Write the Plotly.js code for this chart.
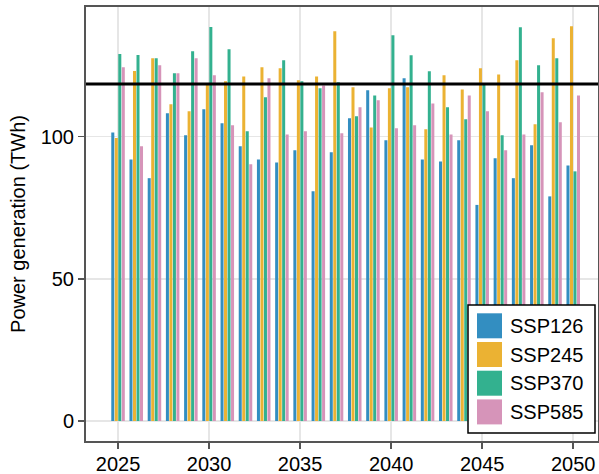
<!DOCTYPE html>
<html>
<head>
<meta charset="utf-8">
<script src="https://cdn.plot.ly/plotly-3.0.1.min.js"></script>
<style>html,body{margin:0;padding:0;background:#fff;}#chart{width:599px;height:474px;}</style>
</head>
<body>
<div id="chart"></div>
<script>
const years = [2025,2026,2027,2028,2029,2030,2031,2032,2033,2034,2035,2036,2037,2038,2039,2040,2041,2042,2043,2044,2045,2046,2047,2048,2049,2050];
const seriesNames = ["SSP126","SSP245","SSP370","SSP585"];
const ssp126 = [101.5,92.0,85.4,108.2,100.5,109.6,104.7,96.6,92.0,90.9,95.2,80.8,94.5,106.5,116.3,98.7,120.5,92.0,91.3,98.7,76.0,92.4,85.4,97.0,79.0,89.9];
const ssp245 = [99.5,123.1,127.6,111.4,108.9,118.2,119.5,121.2,124.4,124.1,119.8,121.2,137.1,117.4,103.2,117.0,117.4,102.6,121.6,116.6,124.1,121.9,126.9,104.4,134.6,138.8];
const ssp370 = [129.1,128.7,127.6,122.3,130.0,138.6,130.7,101.9,113.9,126.9,119.5,117.0,119.1,107.2,114.5,135.7,128.6,123.0,110.3,106.1,118.4,100.5,138.5,125.1,127.6,87.8];
const ssp585 = [124.4,96.6,125.1,122.3,127.6,121.6,104.0,90.3,120.5,100.8,101.9,118.0,101.2,110.3,112.8,103.0,104.0,111.7,100.8,114.5,108.9,95.2,100.8,115.6,105.1,114.5];
const threshold = 118.5;
const colors = ["#338EC1","#EBB233","#33B18F","#D694B9"];

const values = [ssp126, ssp245, ssp370, ssp585];
const traces = values.map((v, i) => ({
  type: 'bar', x: years, y: v, name: seriesNames[i], showlegend: false,
  marker: {color: colors[i], line: {width: 0}}
}));

// plot-area geometry (pixels) used to place the legend box in paper coordinates
const W = 599, H = 474, M = {l: 86, r: 1, t: 7, b: 33};
const pw = W - M.l - M.r, ph = H - M.t - M.b;
const px = x => (x - M.l) / pw;
const py = y => (H - M.b - y) / ph;

// legend layout in pixels
const leg = {x0: 468, x1: 595, y0: 305, y1: 433, sqX0: 477, sqX1: 502, textX: 508, rowTop: 313.3, pitch: 28.7, sq: 25};

const shapes = [
  {type: 'line', xref: 'paper', x0: 0, x1: 1, yref: 'y', y0: threshold, y1: threshold,
   line: {color: '#000', width: 3}},
  {type: 'rect', xref: 'paper', yref: 'paper', layer: 'above',
   x0: px(leg.x0), x1: px(leg.x1), y0: py(leg.y1), y1: py(leg.y0),
   fillcolor: '#fff', line: {color: '#000', width: 1.5}}
];
const annotations = [];
seriesNames.forEach((name, i) => {
  const top = leg.rowTop + i * leg.pitch;
  shapes.push({type: 'rect', xref: 'paper', yref: 'paper', layer: 'above',
    x0: px(leg.sqX0), x1: px(leg.sqX1), y0: py(top + leg.sq), y1: py(top),
    fillcolor: colors[i], line: {width: 0}});
  annotations.push({xref: 'paper', yref: 'paper', x: px(leg.textX), y: py(top + leg.sq / 2),
    xanchor: 'left', yanchor: 'middle', showarrow: false, text: name,
    font: {size: 20, color: '#000'}});
});

const axisCommon = {
  showline: true, mirror: true, linecolor: '#555', linewidth: 2,
  ticks: 'outside', ticklen: 6, tickwidth: 1.5, tickcolor: '#555',
  showgrid: true, gridcolor: '#e6e6e6', gridwidth: 1.5, zeroline: false,
  tickfont: {family: 'Liberation Sans, Arial, sans-serif', size: 20, color: '#000'}
};

const layout = {
  width: W, height: H,
  margin: M,
  paper_bgcolor: '#fff', plot_bgcolor: '#fff',
  barmode: 'group', bargap: 0.23, bargroupgap: 0.14,
  showlegend: false,
  font: {family: 'Liberation Sans, Arial, sans-serif', size: 20, color: '#000'},
  xaxis: Object.assign({}, axisCommon, {range: [2023.24, 2051.36], tick0: 2025, dtick: 5, ticklabelstandoff: -2}),
  yaxis: Object.assign({}, axisCommon, {range: [-7.03, 145.6], tick0: 0, dtick: 50,
    title: {text: 'Power generation (TWh)', font: {size: 20}, standoff: 10}}),
  shapes: shapes,
  annotations: annotations
};

Plotly.newPlot('chart', traces, layout, {displayModeBar: false, staticPlot: true});
</script>
</body>
</html>
